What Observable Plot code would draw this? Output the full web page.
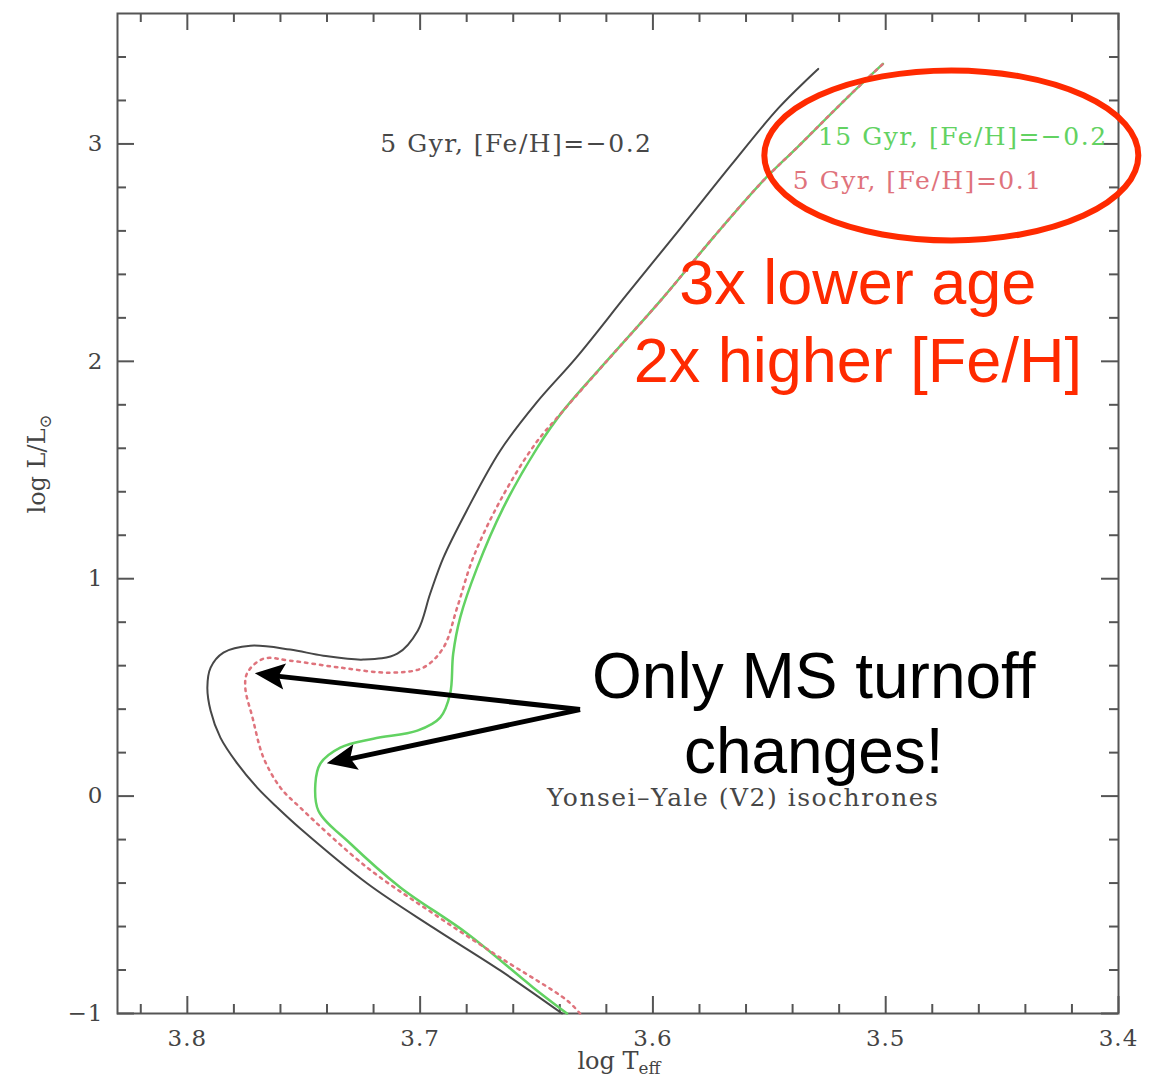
<!DOCTYPE html>
<html>
<head>
<meta charset="utf-8">
<script src="https://cdn.jsdelivr.net/npm/d3@7"></script>
<script src="https://cdn.jsdelivr.net/npm/@observablehq/plot@0.6"></script>
<style>
  body { margin: 0; background: #fff; }
  #chart { width: 1154px; height: 1085px; }
</style>
</head>
<body>
<div id="chart"></div>
<script>
// Yonsei–Yale (V2) isochrones, points as [log Teff, log L/Lsun], from the lower main sequence up the giant branch
const iso5GyrFeHm02 = [
  [3.639, -1.0], [3.6656, -0.802], [3.6944, -0.605], [3.7227, -0.402], [3.7515, -0.149],
  [3.7613, -0.053], [3.770, 0.039], [3.7785, 0.149], [3.7858, 0.269], [3.790, 0.393],
  [3.7914, 0.499], [3.790, 0.591], [3.7845, 0.660], [3.7729, 0.692], [3.7558, 0.674],
  [3.7416, 0.646], [3.7244, 0.628], [3.7098, 0.655], [3.701, 0.761], [3.6957, 0.931],
  [3.690, 1.097], [3.680, 1.313], [3.6656, 1.589], [3.650, 1.810], [3.633, 2.016],
  [3.611, 2.310], [3.588, 2.614], [3.566, 2.908], [3.546, 3.166], [3.529, 3.345]
];
const iso15GyrFeHm02 = [
  [3.6369, -1.0], [3.6515, -0.880], [3.6798, -0.632], [3.7085, -0.420], [3.730, -0.218],
  [3.7437, -0.067], [3.745, 0.057], [3.7429, 0.149], [3.7343, 0.223], [3.7201, 0.264],
  [3.7012, 0.301], [3.6914, 0.361], [3.6871, 0.471], [3.6858, 0.655], [3.6828, 0.821],
  [3.6755, 1.051], [3.6643, 1.326], [3.6497, 1.602], [3.6386, 1.772], [3.6171, 2.034],
  [3.5957, 2.292], [3.5742, 2.568], [3.5527, 2.830], [3.5382, 2.982], [3.5167, 3.211],
  [3.5012, 3.368]
];
const iso5GyrFeHp01 = [
  [3.6313, -1.0], [3.6369, -0.940], [3.6656, -0.743], [3.6944, -0.540], [3.7227, -0.329],
  [3.7515, -0.053], [3.760, 0.039], [3.7673, 0.177], [3.772, 0.361], [3.7751, 0.499],
  [3.7742, 0.568], [3.7673, 0.632], [3.7558, 0.623], [3.7343, 0.591], [3.7128, 0.568],
  [3.6987, 0.591], [3.690, 0.683], [3.6841, 0.867], [3.6772, 1.097], [3.6656, 1.359],
  [3.6505, 1.621], [3.6386, 1.772], [3.6171, 2.034], [3.5957, 2.292], [3.5742, 2.568],
  [3.5527, 2.830], [3.5382, 2.982], [3.5167, 3.211], [3.5012, 3.368]
];

// axis ticks
const xMajorTicks = [3.8, 3.7, 3.6, 3.5, 3.4];
const xMinorTicks = [3.82, 3.78, 3.76, 3.74, 3.72, 3.68, 3.66, 3.64, 3.62, 3.58, 3.56, 3.54, 3.52, 3.48, 3.46, 3.44, 3.42];
const yMajorTicks = [-1, 0, 1, 2, 3];
const yMinorTicks = [-0.8, -0.6, -0.4, -0.2, 0.2, 0.4, 0.6, 0.8, 1.2, 1.4, 1.6, 1.8, 2.2, 2.4, 2.6, 2.8, 3.2, 3.4];

// isochrone labels, placed in data coordinates
const isoLabels = [
  {text: "5 Gyr, [Fe/H]=−0.2", T: 3.7171, L: 3.0, series: "a"},
  {text: "15 Gyr, [Fe/H]=−0.2", T: 3.5291, L: 3.032, series: "b"},
  {text: "5 Gyr, [Fe/H]=0.1", T: 3.5399, L: 2.830, series: "c"},
  {text: "Yonsei–Yale (V2) isochrones", T: 3.6455, L: -0.01, series: "a"}
];

// talk annotations
const ageNote = [
  {text: "3x lower age", T: 3.512, L: 2.356},
  {text: "2x higher [Fe/H]", T: 3.512, L: 1.998}
];
const turnoffNote = [
  {text: "Only MS turnoff", T: 3.5309, L: 0.545},
  {text: "changes!", T: 3.5309, L: 0.200}
];
const arrowTail = {T: 3.6313, L: 0.398};
const arrowTips = [{T: 3.7708, L: 0.563}, {T: 3.7399, L: 0.149}];
const highlight = {T: 3.4716, L: 2.945};

const toRows = (pts) => pts.map(([T, L]) => ({T, L}));
const seriesColor = {a: "#474747", b: "#62d262", c: "#df737c"};
const W = 1154, H = 1085, mT = 13, mR = 36, mB = 72, mL = 117;
const innerW = W - mL - mR, innerH = H - mT - mB;
const tickStroke = {stroke: "#555", strokeWidth: 2};
const minus = d => (d < 0 ? "−" + Math.abs(d) : String(d));

const plot = Plot.plot({
  width: W, height: H,
  marginTop: mT, marginRight: mR, marginBottom: mB, marginLeft: mL,
  style: {background: "#fff", color: "#444", fontFamily: "'DejaVu Serif', serif", fontSize: "23px"},
  x: {domain: [3.83, 3.4]},
  y: {domain: [-1, 3.6]},
  marks: [
    // tick labels
    Plot.axisX({ticks: xMajorTicks, tickSize: 0, tickPadding: 16, tickFormat: d => d.toFixed(1), label: null}),
    Plot.axisY({ticks: yMajorTicks, tickSize: 0, tickPadding: 14, tickFormat: minus, label: null}),
    // inward ticks on all four sides
    Plot.tickX(xMajorTicks, {x: d => d, insetTop: innerH - 17, ...tickStroke}),
    Plot.tickX(xMinorTicks, {x: d => d, insetTop: innerH - 9, ...tickStroke}),
    Plot.tickX(xMajorTicks, {x: d => d, insetBottom: innerH - 17, ...tickStroke}),
    Plot.tickX(xMinorTicks, {x: d => d, insetBottom: innerH - 9, ...tickStroke}),
    Plot.tickY(yMajorTicks, {y: d => d, insetRight: innerW - 17, ...tickStroke}),
    Plot.tickY(yMinorTicks, {y: d => d, insetRight: innerW - 9, ...tickStroke}),
    Plot.tickY(yMajorTicks, {y: d => d, insetLeft: innerW - 17, ...tickStroke}),
    Plot.tickY(yMinorTicks, {y: d => d, insetLeft: innerW - 9, ...tickStroke}),
    Plot.frame({stroke: "#555", strokeWidth: 2}),
    // axis titles ("|" marks the start of a subscript)
    Plot.text(["log T|eff"], {x: 3.6146, frameAnchor: "bottom", dy: 55, text: d => d, fontSize: 24}),
    Plot.text(["log L/L|⊙"], {y: 1.30, frameAnchor: "left", dx: -80, rotate: -90, text: d => d, fontSize: 24}),
    // isochrones
    Plot.line(toRows(iso5GyrFeHm02), {x: "T", y: "L", curve: "catmull-rom", stroke: seriesColor.a, strokeWidth: 2}),
    Plot.line(toRows(iso15GyrFeHm02), {x: "T", y: "L", curve: "catmull-rom", stroke: seriesColor.b, strokeWidth: 2.5}),
    Plot.line(toRows(iso5GyrFeHp01), {x: "T", y: "L", curve: "catmull-rom", stroke: seriesColor.c, strokeWidth: 2.5, strokeDasharray: "2.5,5"}),
    Plot.text(isoLabels, {x: "T", y: "L", text: "text", textAnchor: "start", fill: d => seriesColor[d.series], fontSize: 25}),
    // annotations
    Plot.text(ageNote, {x: "T", y: "L", text: "text", fill: "#ff2a00", fontSize: 63, fontFamily: "'Liberation Sans', Arial, sans-serif"}),
    Plot.text(turnoffNote, {x: "T", y: "L", text: "text", fill: "#000", fontSize: 64, fontFamily: "'Liberation Sans', Arial, sans-serif"}),
    Plot.arrow(arrowTips, {x1: arrowTail.T, y1: arrowTail.L, x2: "T", y2: "L", headLength: 0, insetEnd: 22, stroke: "#000", strokeWidth: 5, strokeLinecap: "butt"})
  ]
});

const root = d3.select(plot);

// wider spacing for the serif labels
const spaced = new Set(isoLabels.map(d => d.text));
root.selectAll("text").each(function () {
  if (spaced.has(this.textContent)) d3.select(this).attr("letter-spacing", 1.5);
});
root.selectAll('g[aria-label="x-axis tick label"] text, g[aria-label="y-axis tick label"] text')
  .attr("letter-spacing", 1);

// subscripts in the axis titles
root.selectAll("text").each(function () {
  const t = this.textContent;
  if (!t.includes("|")) return;
  const [base, sub] = t.split("|");
  const sel = d3.select(this);
  sel.text(null);
  sel.append("tspan").text(base);
  sel.append("tspan").attr("dy", "0.35em").attr("font-size", "0.7em").text(sub);
});

// filled arrowheads and the highlight ellipse, positioned through the plot's scales
const sx = plot.scale("x"), sy = plot.scale("y");
const overlay = root.append("g");
const tail = [sx.apply(arrowTail.T), sy.apply(arrowTail.L)];
for (const tip of arrowTips) {
  const p = [sx.apply(tip.T), sy.apply(tip.L)];
  const dx = p[0] - tail[0], dy = p[1] - tail[1], len = Math.hypot(dx, dy);
  const ux = dx / len, uy = dy / len, nx = -uy, ny = ux;
  const hl = 30, hw = 13, notch = 6;
  const bx = p[0] - ux * hl, by = p[1] - uy * hl;
  overlay.append("polygon")
    .attr("points", [
      [p[0], p[1]],
      [bx + nx * hw, by + ny * hw],
      [bx + ux * notch, by + uy * notch],
      [bx - nx * hw, by - ny * hw]
    ].map(q => q.join(",")).join(" "))
    .attr("fill", "#000");
}
overlay.append("ellipse")
  .attr("cx", sx.apply(highlight.T)).attr("cy", sy.apply(highlight.L))
  .attr("rx", 187).attr("ry", 85)
  .attr("fill", "none").attr("stroke", "#ff2a00").attr("stroke-width", 6);

document.getElementById("chart").append(plot);
</script>
</body>
</html>
